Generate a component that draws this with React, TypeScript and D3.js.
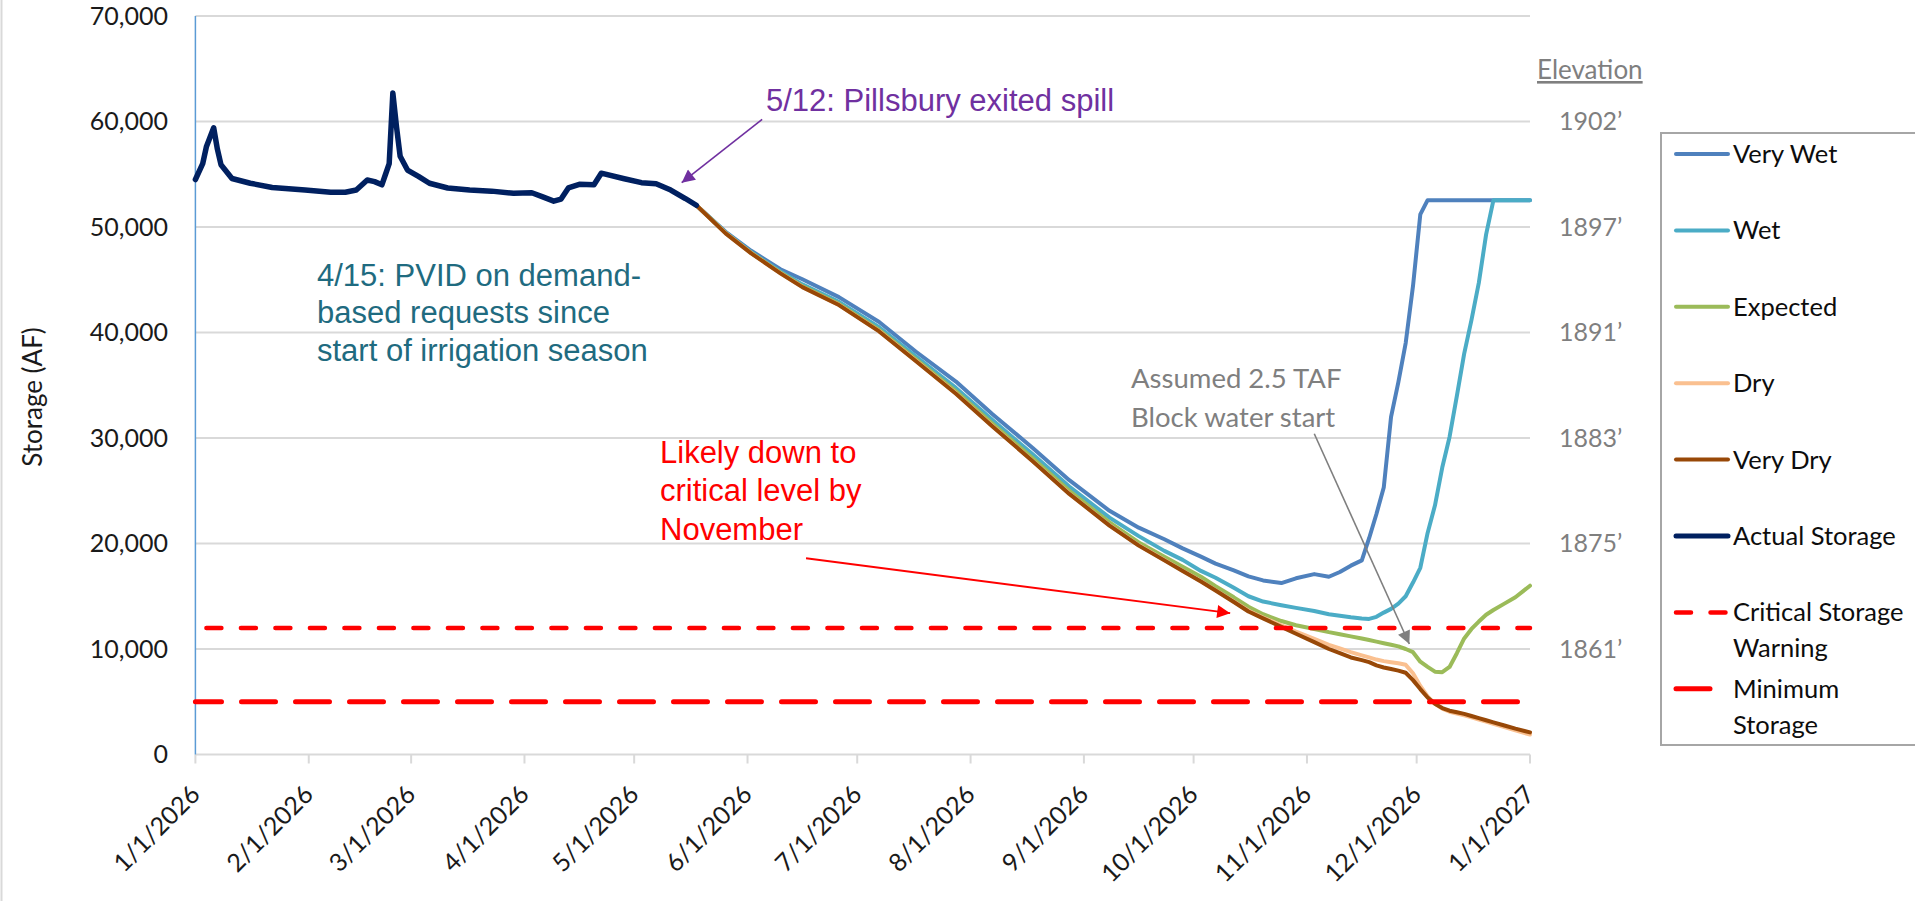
import React from 'react'
import * as d3 from 'd3'

// axis ticks
const MONTH_TICKS = [
  '1/1/2026', '2/1/2026', '3/1/2026', '4/1/2026', '5/1/2026', '6/1/2026', '7/1/2026',
  '8/1/2026', '9/1/2026', '10/1/2026', '11/1/2026', '12/1/2026', '1/1/2027',
]
const STORAGE_TICKS = [0, 10000, 20000, 30000, 40000, 50000, 60000, 70000]
const ELEVATION_TICKS = [10000, 20000, 30000, 40000, 50000, 60000]
const ELEVATION_LABELS = ['1861’', '1875’', '1883’', '1891’', '1897’', '1902’']

// observed storage (AF)
const ACTUAL_DATES = [
  '1/1/2026', '1/3/2026', '1/4/2026', '1/6/2026', '1/7/2026', '1/8/2026', '1/11/2026',
  '1/16/2026', '1/22/2026', '1/31/2026', '2/7/2026', '2/11/2026', '2/14/2026', '2/17/2026',
  '2/19/2026', '2/21/2026', '2/22/2026', '2/23/2026', '2/24/2026', '2/25/2026', '2/26/2026',
  '2/28/2026', '3/3/2026', '3/6/2026', '3/11/2026', '3/17/2026', '3/23/2026', '3/29/2026',
  '4/3/2026', '4/6/2026', '4/9/2026', '4/11/2026', '4/13/2026', '4/16/2026', '4/20/2026',
  '4/22/2026', '4/28/2026', '5/3/2026', '5/7/2026', '5/11/2026', '5/15/2026', '5/18/2026',
]
const ACTUAL_STORAGE = [
  54500, 56000, 57600, 59400, 57400, 55900, 54600,
  54150, 53750, 53500, 53300, 53300, 53500, 54450,
  54300, 54000, 55000, 56000, 62700, 59500, 56700,
  55400, 54800, 54150, 53700, 53500, 53400, 53200,
  53250, 52850, 52450, 52650, 53700, 54050, 54000,
  55100, 54600, 54200, 54100, 53500, 52700, 52060,
]

// projections (AF)
const PROJ_DATES = [
  '5/18/2026', '5/26/2026', '6/2/2026', '6/10/2026', '6/16/2026', '6/26/2026', '7/7/2026',
  '7/17/2026', '7/28/2026', '8/7/2026', '8/18/2026', '8/28/2026', '9/8/2026', '9/16/2026',
  '9/23/2026', '9/28/2026', '10/3/2026', '10/7/2026', '10/12/2026', '10/16/2026', '10/20/2026',
  '10/25/2026', '10/29/2026', '11/3/2026', '11/7/2026', '11/10/2026', '11/13/2026', '11/16/2026',
  '11/18/2026', '11/20/2026', '11/22/2026', '11/24/2026', '11/26/2026', '11/28/2026', '11/30/2026',
  '12/2/2026', '12/4/2026', '12/6/2026', '12/8/2026', '12/10/2026', '12/12/2026', '12/14/2026',
  '12/16/2026', '12/18/2026', '12/20/2026', '12/22/2026', '12/25/2026', '12/28/2026', '1/1/2027',
]
const VERY_WET = [
  52060, 49550, 47750, 46000, 45050, 43350, 41000,
  38200, 35350, 32250, 29050, 26000, 23100, 21500,
  20400, 19540, 18750, 18090, 17450, 16890, 16500,
  16250, 16700, 17100, 16850, 17300, 17900, 18400,
  20500, 22800, 25300, 32000, 35300, 39000, 44400,
  51200, 52540, 52540, 52540, 52540, 52540, 52540,
  52540, 52540, 52540, 52540, 52540, 52540, 52540,
]
const WET = [
  52060, 49480, 47620, 45780, 44560, 42900, 40500,
  37750, 34750, 31700, 28450, 25400, 22450, 20700,
  19300, 18450, 17400, 16750, 15800, 15000, 14500,
  14150, 13900, 13600, 13300, 13150, 13000, 12900,
  12850, 13050, 13450, 13800, 14300, 15000, 16300,
  17700, 21000, 23600, 27200, 30100, 34000, 38000,
  41200, 44700, 49300, 52540, 52540, 52540, 52540,
]
const EXPECTED = [
  52060, 49450, 47560, 45680, 44400, 42720, 40250,
  37480, 34420, 31350, 28080, 25000, 22000, 20100,
  18750, 17800, 16850, 15950, 14900, 14000, 13300,
  12650, 12250, 11900, 11600, 11400, 11200, 11000,
  10850, 10700, 10550, 10400, 10250, 10000, 9700,
  8800, 8300, 7850, 7800, 8300, 9600, 11000,
  11900, 12600, 13250, 13700, 14300, 14900, 16000,
]
const DRY = [
  52060, 49420, 47520, 45620, 44320, 42620, 40130,
  37330, 34230, 31130, 27830, 24730, 21730, 19830,
  18430, 17430, 16430, 15580, 14500, 13620, 12980,
  12250, 11650, 10950, 10400, 10050, 9700, 9400,
  9200, 9000, 8850, 8750, 8650, 8500, 7700,
  6500, 5500, 4800, 4350, 4050, 3880, 3720,
  3520, 3320, 3120, 2900, 2600, 2280, 1900,
]
const VERY_DRY = [
  52060, 49400, 47500, 45600, 44300, 42600, 40100,
  37300, 34200, 31100, 27800, 24700, 21700, 19800,
  18400, 17400, 16400, 15550, 14450, 13550, 12900,
  12100, 11450, 10650, 10000, 9600, 9200, 8950,
  8750, 8450, 8250, 8100, 7950, 7750, 7050,
  6200, 5400, 4800, 4400, 4150, 4000, 3850,
  3650, 3450, 3250, 3050, 2750, 2450, 2100,
]

const CRITICAL_STORAGE = 12000
const MINIMUM_STORAGE = 5000

const SERIES = [
  { name: 'Very Wet', values: VERY_WET, color: '#4F81BD' },
  { name: 'Wet', values: WET, color: '#4BACC6' },
  { name: 'Expected', values: EXPECTED, color: '#9BBB59' },
  { name: 'Dry', values: DRY, color: '#FAC090' },
  { name: 'Very Dry', values: VERY_DRY, color: '#984807' },
]

// arrow anchors in data space [date, storage]
const ARROWS = [
  { from: ['6/5/2026', 60200], to: ['5/14/2026', 54200], color: '#7030A0', w: 1.6, id: 'ah-purple' },
  { from: ['6/17/2026', 18600], to: ['10/11/2026', 13400], color: '#FF0000', w: 2, id: 'ah-red' },
  { from: ['11/3/2026', 30400], to: ['11/29/2026', 10470], color: '#7F7F7F', w: 1.6, id: 'ah-grey' },
]

const CAL = 'Lato, "Open Sans", sans-serif'
const ARIAL = '"Liberation Sans", Arial, sans-serif'

const parse = d3.timeParse('%m/%d/%Y')

export default function App() {
  const W = 1915
  const H = 901
  const x = d3.scaleTime()
    .domain([parse('1/1/2026')!, parse('1/1/2027')!])
    .range([195.4, 1530])
  const y = d3.scaleLinear().domain([0, 70000]).range([754.5, 16])
  const [x0, x1] = x.range()

  const line = d3.line<[Date, number]>()
    .x((d) => x(d[0]))
    .y((d) => y(d[1]))

  const projDates = PROJ_DATES.map((d) => parse(d)!)
  const actual = ACTUAL_DATES.map((d, i) => [parse(d)!, ACTUAL_STORAGE[i]] as [Date, number])

  const legendItems = [
    ...SERIES.map((s) => ({ lines: [s.name], color: s.color, width: 4, dash: undefined as string | undefined })),
    { lines: ['Actual Storage'], color: '#002060', width: 5, dash: undefined },
    { lines: ['Critical Storage', 'Warning'], color: '#FF0000', width: 4.5, dash: '15 19.5' },
    { lines: ['Minimum', 'Storage'], color: '#FF0000', width: 5, dash: '34 20' },
  ]

  return (
    <div style={{ position: 'fixed', left: 0, top: 0 }}>
      <svg width={W} height={H} style={{ display: 'block', background: '#fff' }}>
        <defs>
          {ARROWS.map((a) => (
            <marker
              key={a.id}
              id={a.id}
              viewBox="0 0 10 10"
              refX={10}
              refY={5}
              markerWidth={16}
              markerHeight={13}
              markerUnits="userSpaceOnUse"
              orient="auto"
            >
              <path d="M0,0 L10,5 L0,10 z" fill={a.color} />
            </marker>
          ))}
        </defs>

        <line x1={1.5} x2={1.5} y1={0} y2={H} stroke="#d9d9d9" strokeWidth={2} />

        {/* gridlines */}
        {STORAGE_TICKS.map((v) => (
          <line key={v} x1={x0} x2={x1} y1={y(v)} y2={y(v)} stroke="#d9d9d9" strokeWidth={2} />
        ))}
        {MONTH_TICKS.map((m) => (
          <line key={m} x1={x(parse(m)!)} x2={x(parse(m)!)} y1={y(0)} y2={y(0) + 9} stroke="#d9d9d9" strokeWidth={2} />
        ))}
        <line x1={x0} x2={x0} y1={y(70000)} y2={y(0)} stroke="#5B9BD5" strokeWidth={1.5} />

        {/* left axis labels */}
        {STORAGE_TICKS.map((v) => (
          <text key={v} x={168} y={y(v)} dy="0.35em" textAnchor="end" fontFamily={CAL} fontSize={25} fill="#1a1a1a">
            {d3.format(',')(v)}
          </text>
        ))}
        <text transform={`translate(42, 397) rotate(-90)`} textAnchor="middle" fontFamily={CAL} fontSize={26} fill="#1a1a1a">
          Storage (AF)
        </text>

        {/* right elevation labels */}
        {ELEVATION_TICKS.map((v, i) => (
          <text key={v} x={1559} y={y(v)} dy="0.35em" fontFamily={CAL} fontSize={25} fill="#7F7F7F">
            {ELEVATION_LABELS[i]}
          </text>
        ))}
        <text x={1537} y={79} fontFamily={CAL} fontSize={26} fill="#7F7F7F" textDecoration="underline">
          Elevation
        </text>

        {/* x labels */}
        {MONTH_TICKS.map((m) => (
          <text
            key={m}
            transform={`translate(${x(parse(m)!) + 6}, 796) rotate(-45)`}
            textAnchor="end"
            fontFamily={CAL}
            fontSize={25}
            fill="#1a1a1a"
          >
            {m}
          </text>
        ))}

        {/* projections */}
        {SERIES.map((s) => (
          <path
            key={s.name}
            d={line(projDates.map((d, i) => [d, s.values[i]]))!}
            fill="none"
            stroke={s.color}
            strokeWidth={4}
            strokeLinejoin="round"
            strokeLinecap="round"
          />
        ))}
        <path d={line(actual)!} fill="none" stroke="#002060" strokeWidth={5.5} strokeLinejoin="round" strokeLinecap="round" />

        {/* thresholds */}
        <line
          x1={x0}
          x2={x1}
          y1={y(CRITICAL_STORAGE)}
          y2={y(CRITICAL_STORAGE)}
          stroke="#FF0000"
          strokeWidth={4.5}
          strokeDasharray="15 19.5"
          strokeDashoffset={23.5}
          strokeLinecap="round"
        />
        <line
          x1={x0}
          x2={x1}
          y1={y(MINIMUM_STORAGE)}
          y2={y(MINIMUM_STORAGE)}
          stroke="#FF0000"
          strokeWidth={5}
          strokeDasharray="34 20"
          strokeDashoffset={7.9}
          strokeLinecap="round"
        />

        {/* annotations */}
        {ARROWS.map((a) => (
          <line
            key={a.id}
            x1={x(parse(a.from[0] as string)!)}
            y1={y(a.from[1] as number)}
            x2={x(parse(a.to[0] as string)!)}
            y2={y(a.to[1] as number)}
            stroke={a.color}
            strokeWidth={a.w}
            markerEnd={`url(#${a.id})`}
          />
        ))}
        <text x={766} y={111} fontFamily={ARIAL} fontSize={31} fill="#7030A0">
          5/12: Pillsbury exited spill
        </text>
        <text fontFamily={ARIAL} fontSize={31} fill="#1F6B80">
          <tspan x={317} y={286}>4/15: PVID on demand-</tspan>
          <tspan x={317} y={323}>based requests since</tspan>
          <tspan x={317} y={361}>start of irrigation season</tspan>
        </text>
        <text fontFamily={ARIAL} fontSize={31} fill="#FF0000">
          <tspan x={660} y={463}>Likely down to</tspan>
          <tspan x={660} y={501}>critical level by</tspan>
          <tspan x={660} y={540}>November</tspan>
        </text>
        <text fontFamily={CAL} fontSize={27.5} fill="#7F7F7F">
          <tspan x={1131} y={388}>Assumed 2.5 TAF</tspan>
          <tspan x={1131} y={427}>Block water start</tspan>
        </text>

        {/* legend */}
        <rect x={1661} y={133} width={300} height={612} fill="#fff" stroke="#A6A6A6" strokeWidth={2} />
        {legendItems.map((it, i) => {
          const ry = 154 + i * 76.4
          return (
            <g key={it.lines[0]}>
              <line
                x1={1676}
                x2={1728}
                y1={ry}
                y2={ry}
                stroke={it.color}
                strokeWidth={it.width}
                strokeDasharray={it.dash}
                strokeLinecap="round"
              />
              {it.lines.map((t, j) => (
                <text key={t} x={1733} y={ry + j * 36} dy="0.35em" fontFamily={CAL} fontSize={25.5} fill="#0d0d0d">
                  {t}
                </text>
              ))}
            </g>
          )
        })}
      </svg>
    </div>
  )
}
